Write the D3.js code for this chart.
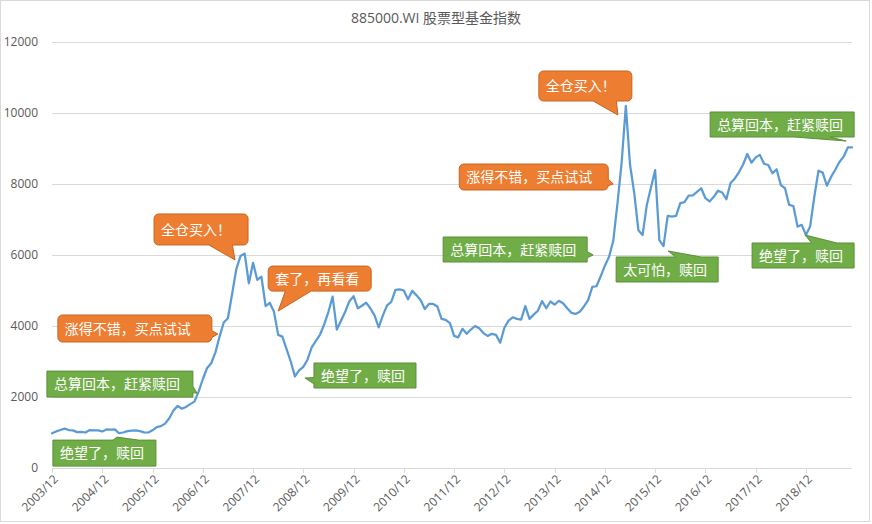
<!DOCTYPE html>
<html lang="zh">
<head>
<meta charset="UTF-8" />
<title>885000.WI 股票型基金指数</title>
<style>
  body { margin: 0; background: #fff; }
  svg { display: block; font-family: "Open Sans", "Noto Sans CJK SC", sans-serif; }
  .grid line { stroke: #d9d9d9; stroke-width: 1; }
  .ylab { font-size: 12px; fill: #595959; }
  .xlab { font-size: 12px; fill: #595959; }
  .note text { font-family: "Noto Sans CJK SC", sans-serif; font-size: 14px; fill: #fff; }
</style>
</head>
<body>
<svg width="872" height="524"></svg>
<script src="https://d3js.org/d3.v7.min.js"></script>
<script>
// monthly close, 2003/12 .. 2019/11
const values = [
  980, 1030, 1070, 1110, 1070, 1060, 1010, 1020, 1000, 1070, 1060, 1060,
  1030, 1085, 1080, 1090, 980, 1000, 1040, 1050, 1060, 1040, 1005, 1000,
  1060, 1150, 1180, 1250, 1400, 1620, 1750, 1670, 1720, 1800, 1870, 2150,
  2500, 2810, 2950, 3250, 3700, 4100, 4220, 4900, 5600, 5970, 6040, 5200,
  5780, 5300, 5390, 4560, 4650, 4400, 3750, 3700, 3350, 3000, 2580, 2750,
  2850, 3050, 3400, 3580, 3760, 4050, 4400, 4830, 3900, 4150, 4400, 4700,
  4840, 4500, 4570, 4660, 4500, 4300, 3960, 4300, 4580, 4680, 5020, 5030,
  5000, 4750, 4990, 4870, 4730, 4480, 4620, 4620, 4550, 4200, 4170, 4080,
  3720, 3680, 3920, 3780, 3900, 4000, 3935, 3800, 3720, 3780, 3750, 3530,
  3950, 4150, 4245, 4200, 4180, 4560, 4200, 4320, 4430, 4700, 4500, 4690,
  4600, 4710, 4640, 4500, 4370, 4340, 4400, 4550, 4730, 5100, 5120, 5400,
  5700, 5950, 6400, 7450, 8600, 10200, 8550, 7750, 6700, 6560, 7400, 7900,
  8390, 6420, 6250, 7100, 7080, 7100, 7460, 7490, 7670, 7680, 7780, 7880,
  7600, 7510, 7640, 7810, 7760, 7570, 8030, 8150, 8330, 8550, 8845, 8600,
  8750, 8820, 8570, 8535, 8300, 8415, 7970, 7880, 7410, 7380, 6800, 6850,
  6560, 6800, 7640, 8375, 8320, 7950, 8200, 8400, 8620, 8770, 9030, 9030
];

const months = values.map((_, i) => {
  const m = 11 + i;
  return (2003 + Math.floor(m / 12)) + "/" + String(m % 12 + 1).padStart(2, "0");
});

const tickLabels = ["2003/12", "2004/12", "2005/12", "2006/12", "2007/12", "2008/12",
  "2009/12", "2010/12", "2011/12", "2012/12", "2013/12", "2014/12", "2015/12",
  "2016/12", "2017/12", "2018/12"];
const yTicks = [0, 2000, 4000, 6000, 8000, 10000, 12000];

// callouts: text, kind, tip anchor (month index, value)
const noteText = ["绝望了，赎回", "总算回本，赶紧赎回", "涨得不错，买点试试", "全仓买入！",
  "套了，再看看", "绝望了，赎回", "全仓买入！", "涨得不错，买点试试",
  "总算回本，赶紧赎回", "太可怕，赎回", "绝望了，赎回", "总算回本，赶紧赎回"];
const noteKind = ["sell", "sell", "buy", "buy", "buy", "sell", "buy", "buy", "sell", "sell", "sell", "sell"];
const noteAt = [15.5, 34.6, 39.6, 43.7, 54.0, 60.4, 135.1, 134.0, 129.2, 147.1, 179.8, 189.6];
const noteVal = [870, 2110, 3775, 5860, 4420, 2535, 9944, 8000, 6000, 6113, 6563, 9211];

// box placement relative to tip: dx, dy, w, h
const noteBox = [
  [-64, 3, 103, 26], [-150, -22, 146, 26], [-160, -19, 154, 27], [-81, -46, 94, 31],
  [-10, -45, 103, 25], [9, -15, 102, 25], [-79, -44, 93, 30], [-154, -20, 149, 26],
  [-150, -18, 144, 25], [-52, 6, 102, 25], [-53, 8, 102, 25], [-136, -29, 144, 25]
];

const colors = {
  buy: { fill: "#ed7d31", stroke: "#c7641f" },
  sell: { fill: "#70ad47", stroke: "#5b8f38" }
};

const svg = d3.select("svg");
const W = 872, H = 524;
const plotL = 52, plotR = 852, plotT = 42, plotB = 468;

const x = d3.scaleLinear().domain([0, values.length - 1]).range([plotL, plotR]);
const y = d3.scaleLinear().domain([0, 12000]).range([plotB, plotT]);

svg.append("rect")
  .attr("x", 0.5).attr("y", 0.5)
  .attr("width", W - 3).attr("height", H - 3)
  .attr("fill", "#fff").attr("stroke", "#d9d9d9");

svg.append("text")
  .attr("x", 436).attr("y", 23)
  .attr("text-anchor", "middle")
  .attr("font-size", 14).attr("fill", "#595959")
  .attr("font-family", "'Open Sans', 'Noto Sans CJK SC', sans-serif")
  .text("885000.WI 股票型基金指数");

// gridlines + y labels
const grid = svg.append("g").attr("class", "grid");
grid.selectAll("line").data(yTicks).join("line")
  .attr("x1", plotL).attr("x2", plotR)
  .attr("y1", d => Math.round(y(d)) + 0.5).attr("y2", d => Math.round(y(d)) + 0.5);

svg.append("g").selectAll("text").data(yTicks).join("text")
  .attr("class", "ylab")
  .attr("x", 38).attr("y", d => y(d))
  .attr("dy", "0.35em")
  .attr("text-anchor", "end")
  .text(d => d);

// x ticks and rotated labels
const tickIdx = tickLabels.map(t => months.indexOf(t));
svg.append("g").selectAll("line").data(tickIdx).join("line")
  .attr("x1", d => Math.round(x(d)) + 0.5).attr("x2", d => Math.round(x(d)) + 0.5)
  .attr("y1", plotB).attr("y2", plotB + 5)
  .attr("stroke", "#d9d9d9");

svg.append("g").selectAll("text").data(tickIdx).join("text")
  .attr("class", "xlab")
  .attr("text-anchor", "end")
  .attr("transform", d => `translate(${x(d) + 4},${plotB + 9}) rotate(-45)`)
  .attr("dy", "0.35em")
  .text(d => months[d]);

// the index line
svg.append("path")
  .datum(values)
  .attr("fill", "none")
  .attr("stroke", "#5b9bd5")
  .attr("stroke-width", 2.25)
  .attr("stroke-linejoin", "round")
  .attr("stroke-linecap", "round")
  .attr("d", d3.line().x((d, i) => x(i)).y(d => y(d)));

// Excel-style wedge callout path
function wedgePath(bx, by, w, h, tx, ty, r) {
  const dxPos = tx - (bx + w / 2), dyPos = ty - (by + h / 2);
  const dz = Math.abs(dyPos) - Math.abs(dxPos * h / w);
  const x1 = bx + w * (dxPos > 0 ? 7 : 2) / 12, x2 = bx + w * (dxPos > 0 ? 10 : 5) / 12;
  const y1 = by + h * (dyPos > 0 ? 7 : 2) / 12, y2 = by + h * (dyPos > 0 ? 10 : 5) / 12;
  const R = bx + w, B = by + h;
  const p = d3.path();
  p.moveTo(bx + r, by);
  if (dz > 0 && dyPos < 0) { p.lineTo(x1, by); p.lineTo(tx, ty); p.lineTo(x2, by); }
  p.lineTo(R - r, by);
  if (r) p.arcTo(R, by, R, by + r, r);
  if (dz <= 0 && dxPos > 0) { p.lineTo(R, y1); p.lineTo(tx, ty); p.lineTo(R, y2); }
  p.lineTo(R, B - r);
  if (r) p.arcTo(R, B, R - r, B, r);
  if (dz > 0 && dyPos > 0) { p.lineTo(x2, B); p.lineTo(tx, ty); p.lineTo(x1, B); }
  p.lineTo(bx + r, B);
  if (r) p.arcTo(bx, B, bx, B - r, r);
  if (dz <= 0 && dxPos <= 0) { p.lineTo(bx, y2); p.lineTo(tx, ty); p.lineTo(bx, y1); }
  p.lineTo(bx, by + r);
  if (r) p.arcTo(bx, by, bx + r, by, r);
  p.closePath();
  return p.toString();
}

const notes = noteText.map((t, i) => ({ text: t, kind: noteKind[i], at: noteAt[i], v: noteVal[i], box: noteBox[i] }));

const ng = svg.append("g").selectAll("g").data(notes).join("g").attr("class", "note");
ng.append("path")
  .attr("d", d => {
    const tx = x(d.at), ty = y(d.v);
    const [dx, dy, w, h] = d.box;
    return wedgePath(tx + dx, ty + dy, w, h, tx, ty, d.kind === "buy" ? 4.5 : 0);
  })
  .attr("fill", d => colors[d.kind].fill)
  .attr("stroke", d => colors[d.kind].stroke)
  .attr("stroke-width", 1);

ng.append("text")
  .attr("x", d => x(d.at) + d.box[0] + 7)
  .attr("y", d => y(d.v) + d.box[1] + d.box[3] / 2)
  .attr("dy", "0.36em")
  .text(d => d.text);
</script>
</body>
</html>
